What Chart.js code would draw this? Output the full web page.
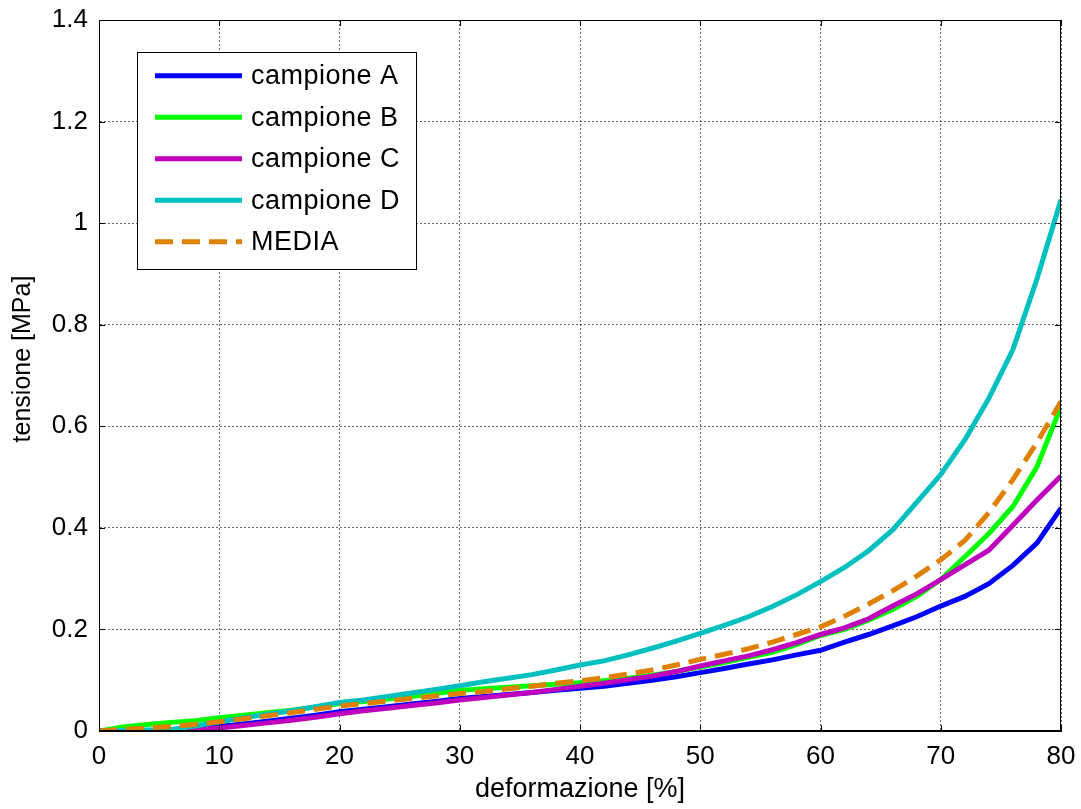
<!DOCTYPE html>
<html>
<head>
<meta charset="utf-8">
<script src="https://cdn.jsdelivr.net/npm/chart.js@4/dist/chart.umd.min.js"></script>
<style>
  html, body { margin: 0; padding: 0; background: #fff; }
  #wrap { width: 1081px; height: 809px; position: relative; }
</style>
</head>
<body>
<div id="wrap"><canvas id="c" width="1081" height="809"></canvas></div>
<script>
// strain [%]
const strain = [0,2,4,6,8,10,12,14,16,18,20,22,24,26,28,30,32,34,36,38,40,42,44,46,48,50,52,54,56,58,60,62,64,66,68,70,72,74,76,78,80];
// stress [MPa]
const campioneA = [0,0,0,0,0.004,0.009,0.014,0.019,0.025,0.031,0.038,0.043,0.048,0.053,0.058,0.064,0.068,0.072,0.076,0.080,0.084,0.088,0.094,0.100,0.107,0.115,0.123,0.132,0.140,0.150,0.159,0.175,0.190,0.207,0.225,0.246,0.265,0.290,0.326,0.370,0.439];
const campioneB = [0,0.008,0.013,0.017,0.020,0.026,0.031,0.036,0.041,0.047,0.054,0.058,0.063,0.068,0.074,0.080,0.083,0.086,0.089,0.092,0.095,0.099,0.104,0.110,0.117,0.126,0.135,0.145,0.155,0.170,0.188,0.200,0.218,0.239,0.265,0.298,0.343,0.389,0.442,0.520,0.639];
const campioneC = [0,0,0,0,0.002,0.006,0.011,0.016,0.021,0.027,0.034,0.040,0.045,0.050,0.055,0.061,0.066,0.071,0.076,0.082,0.088,0.094,0.101,0.108,0.117,0.128,0.138,0.148,0.160,0.174,0.190,0.203,0.221,0.246,0.270,0.298,0.327,0.356,0.405,0.455,0.502];
const campioneD = [0,0.001,0.002,0.003,0.010,0.018,0.026,0.033,0.040,0.048,0.056,0.061,0.068,0.075,0.082,0.089,0.097,0.104,0.111,0.120,0.130,0.138,0.150,0.163,0.177,0.192,0.208,0.225,0.245,0.268,0.294,0.322,0.355,0.396,0.450,0.505,0.573,0.655,0.751,0.890,1.046];
const media = [0,0.003,0.006,0.009,0.013,0.018,0.024,0.030,0.036,0.043,0.049,0.054,0.059,0.064,0.069,0.074,0.078,0.083,0.088,0.094,0.099,0.105,0.112,0.120,0.130,0.141,0.151,0.162,0.175,0.190,0.205,0.226,0.250,0.276,0.305,0.337,0.375,0.430,0.495,0.568,0.649];

const seriesLabels = ['campione A','campione B','campione C','campione D','MEDIA'];
const seriesValues = [campioneA, campioneB, campioneC, campioneD, media];
const seriesColors = ['#0000FF','#00FF00','#BF00BF','#00BFBF','#E08000'];
const xTicks = [0,10,20,30,40,50,60,70,80];
const yTicks = [0,0.2,0.4,0.6,0.8,1,1.2,1.4];
const xTitle = 'deformazione [%]';
const yTitle = 'tensione [MPa]';

const FONT = "'Liberation Sans', Arial, Helvetica, sans-serif";

const datasets = seriesValues.map((vals, i) => ({
  label: seriesLabels[i],
  data: strain.map((x, j) => ({x: x, y: vals[j]})),
  borderColor: seriesColors[i],
  backgroundColor: seriesColors[i],
  borderWidth: 5,
  borderDash: i === 4 ? [18, 9] : [],
  pointRadius: 0,
  tension: 0,
  fill: false,
  order: 5 - i
}));

const framePlugin = {
  id: 'frame',
  afterDatasetsDraw(chart) {
    const {ctx, chartArea: a, scales} = chart;
    ctx.save();
    ctx.strokeStyle = '#000';
    ctx.lineWidth = 1;
    ctx.setLineDash([]);
    ctx.strokeRect(a.left + 0.5, a.top + 0.5, a.right - a.left - 1, a.bottom - a.top - 1);
    const tl = 6;
    ctx.beginPath();
    xTicks.forEach(v => {
      const px = Math.round(scales.x.getPixelForValue(v)) + 0.5;
      ctx.moveTo(px, a.bottom); ctx.lineTo(px, a.bottom - tl);
      ctx.moveTo(px, a.top); ctx.lineTo(px, a.top + tl);
    });
    yTicks.forEach(v => {
      const py = Math.round(scales.y.getPixelForValue(v)) + 0.5;
      ctx.moveTo(a.left, py); ctx.lineTo(a.left + tl, py);
      ctx.moveTo(a.right, py); ctx.lineTo(a.right - tl, py);
    });
    ctx.stroke();

    // y axis title
    ctx.save();
    ctx.translate(23, 359);
    ctx.rotate(-Math.PI / 2);
    ctx.font = '25px ' + FONT;
    ctx.fillStyle = '#000';
    ctx.textAlign = 'center';
    ctx.textBaseline = 'middle';
    ctx.fillText(yTitle, 0, 0);
    ctx.restore();

    // legend
    const bx = 137, by = 52, bw = 279, bh = 217;
    ctx.fillStyle = '#fff';
    ctx.fillRect(bx, by, bw, bh);
    ctx.strokeStyle = '#000';
    ctx.lineWidth = 1;
    ctx.strokeRect(bx + 0.5, by + 0.5, bw, bh);
    const rows = [75.7, 117.3, 158.8, 200.3, 241.8];
    ctx.font = '27px ' + FONT;
    ctx.textBaseline = 'middle';
    ctx.textAlign = 'left';
    try { ctx.letterSpacing = '0.5px'; } catch(e) {}
    chart.data.datasets.forEach((ds, i) => {
      const y = rows[i];
      ctx.beginPath();
      ctx.strokeStyle = ds.borderColor;
      ctx.lineWidth = 5;
      ctx.setLineDash(ds.borderDash || []);
      ctx.moveTo(155, y); ctx.lineTo(242, y);
      ctx.stroke();
      ctx.setLineDash([]);
      ctx.fillStyle = '#000';
      ctx.fillText(ds.label, 251, y + 1);
    });
    try { ctx.letterSpacing = '0px'; } catch(e) {}
    ctx.restore();
  }
};

new Chart(document.getElementById('c'), {
  type: 'line',
  data: { datasets },
  options: {
    responsive: false,
    animation: false,
    devicePixelRatio: 1,
    layout: { padding: { left: 0, top: 20, right: 20, bottom: 0 } },
    plugins: { legend: { display: false }, tooltip: { enabled: false } },
    scales: {
      x: {
        type: 'linear', min: 0, max: 80,
        afterBuildTicks(scale) { scale.ticks = xTicks.map(v => ({value: v})); },
        afterFit(scale) { scale.height = 78; scale.paddingLeft = 0; scale.paddingRight = 0; },
        grid: { color: 'rgba(0,0,0,0.6)', lineWidth: 1, drawTicks: false },
        border: { display: true, color: '#000', dash: [2, 2] },
        ticks: { color: '#000', padding: 10, maxRotation: 0, font: { family: FONT, size: 26 },
                 callback: v => String(v) },
        title: { display: true, text: xTitle, color: '#000', font: { family: FONT, size: 27 },
                 padding: { top: 0, bottom: 3 } }
      },
      y: {
        type: 'linear', min: 0, max: 1.4,
        afterBuildTicks(scale) { scale.ticks = yTicks.map(v => ({value: v})); },
        afterFit(scale) { scale.width = 99; scale.paddingTop = 0; scale.paddingBottom = 0; },
        grid: { color: 'rgba(0,0,0,0.6)', lineWidth: 1, drawTicks: false },
        border: { display: true, color: '#000', dash: [2, 2] },
        ticks: { color: '#000', padding: 11, font: { family: FONT, size: 26 },
                 callback: v => String(Number(v.toFixed(1))) },
        title: { display: false }
      }
    }
  },
  plugins: [framePlugin]
});
</script>
</body>
</html>
